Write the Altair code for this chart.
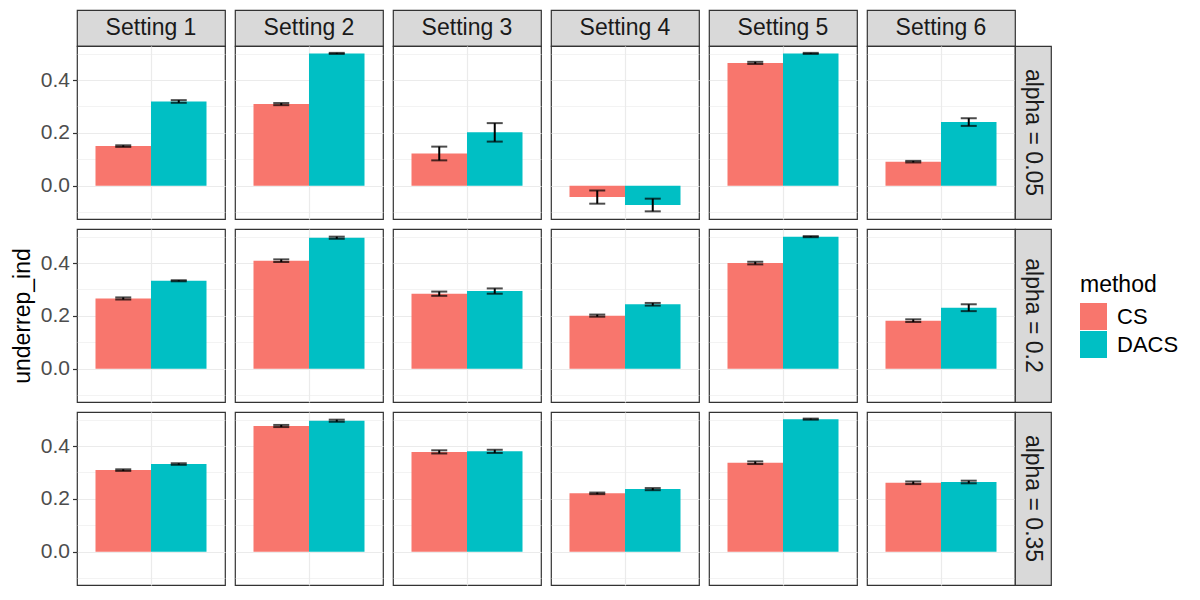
import altair as alt
import pandas as pd

settings = ["Setting 1", "Setting 2", "Setting 3", "Setting 4", "Setting 5", "Setting 6"]
alphas = ["alpha = 0.05", "alpha = 0.2", "alpha = 0.35"]
methods = ["CS", "DACS"]
metric = "underrep_ind"

# values (mean, half-width of error bar)
cs_a005 = [0.150, 0.309, 0.122, -0.043, 0.465, 0.091]
cs_a005_err = [0.003, 0.004, 0.026, 0.025, 0.004, 0.003]
dacs_a005 = [0.319, 0.501, 0.202, -0.073, 0.501, 0.241]
dacs_a005_err = [0.005, 0.002, 0.035, 0.024, 0.002, 0.0145]

cs_a02 = [0.266, 0.409, 0.284, 0.201, 0.400, 0.182]
cs_a02_err = [0.004, 0.005, 0.008, 0.004, 0.005, 0.005]
dacs_a02 = [0.333, 0.496, 0.294, 0.244, 0.500, 0.231]
dacs_a02_err = [0.002, 0.004, 0.010, 0.005, 0.002, 0.013]

cs_a035 = [0.309, 0.476, 0.378, 0.221, 0.337, 0.261]
cs_a035_err = [0.003, 0.004, 0.006, 0.003, 0.005, 0.005]
dacs_a035 = [0.332, 0.496, 0.380, 0.237, 0.502, 0.264]
dacs_a035_err = [0.003, 0.004, 0.006, 0.004, 0.002, 0.005]

series = {
    ("alpha = 0.05", "CS"): (cs_a005, cs_a005_err),
    ("alpha = 0.05", "DACS"): (dacs_a005, dacs_a005_err),
    ("alpha = 0.2", "CS"): (cs_a02, cs_a02_err),
    ("alpha = 0.2", "DACS"): (dacs_a02, dacs_a02_err),
    ("alpha = 0.35", "CS"): (cs_a035, cs_a035_err),
    ("alpha = 0.35", "DACS"): (dacs_a035, dacs_a035_err),
}

rows = []
for (a, m), (vals, errs) in series.items():
    for s, v, e in zip(settings, vals, errs):
        rows.append({"alpha": a, "setting": s, "method": m, "grp": metric,
                     "value": v, "lo": v - e, "hi": v + e})
df = pd.DataFrame(rows)

FONT = "Liberation Sans"
PW, PH = 148, 173
GAP = 10
GRID = "#EBEBEB"
BORDER = "#333333"
STRIP = "#D9D9D9"

ysc = alt.Scale(domain=[-0.126, 0.529], nice=False, zero=False)
major_test = "abs(round(datum.value * 10)) % 2 === 0"

color = alt.Color(
    "method:N",
    scale=alt.Scale(domain=methods, range=["#F8766D", "#00BFC4"]),
    legend=alt.Legend(
        title="method", orient="none", legendX=1003, legendY=264,
        symbolType="square", symbolSize=729, symbolStrokeWidth=0,
        labelOffset=10, rowPadding=1, titlePadding=6, padding=0,
    ),
)


def panel(setting, alpha, first_col, title):
    d = df[(df.setting == setting) & (df.alpha == alpha)]
    if first_col:
        yaxis = alt.Axis(
            values=[-0.1, 0, 0.1, 0.2, 0.3, 0.4, 0.5],
            labelExpr=f"{major_test} ? format(datum.value, '.1f') : ''",
            tickOpacity={"condition": {"test": major_test, "value": 1}, "value": 0},
            gridWidth={"condition": {"test": major_test, "value": 1.2}, "value": 0.6},
            gridColor=GRID, domain=False, tickSize=4.5, tickColor=BORDER,
            tickWidth=1.2, labelPadding=3, titlePadding=6,
        )
    else:
        yaxis = alt.Axis(
            values=[-0.1, 0, 0.1, 0.2, 0.3, 0.4, 0.5],
            labels=False, ticks=False, domain=False, gridColor=GRID,
            gridWidth={"condition": {"test": major_test, "value": 1.2}, "value": 0.6},
        )

    def ych(field):
        return alt.Y(field, scale=ysc, axis=yaxis, title=title)

    x = alt.X("grp:N", title=None,
              scale=alt.Scale(paddingOuter=1 / 6, paddingInner=0),
              axis=alt.Axis(labels=False, ticks=False, domain=False, grid=True,
                            bandPosition=0.5, gridColor=GRID, gridWidth=1.2))
    xo = alt.XOffset("method:N", scale=alt.Scale(domain=methods, paddingInner=0, paddingOuter=0))
    base = alt.Chart(d).encode(x=x, xOffset=xo)
    bars = base.mark_bar().encode(y=ych("value:Q"), color=color)
    rule = base.mark_rule(color="black", strokeWidth=2).encode(y=ych("lo:Q"), y2="hi:Q")
    cap_lo = base.mark_tick(color="black", thickness=2, size=16).encode(y=ych("lo:Q"))
    cap_hi = base.mark_tick(color="black", thickness=2, size=16).encode(y=ych("hi:Q"))
    return alt.layer(bars, rule, cap_lo, cap_hi).properties(width=PW, height=PH)


def top_strip(label):
    return alt.Chart(pd.DataFrame({"label": [label]})).mark_text(
        fontSize=23, color="#1A1A1A", font=FONT, align="center", baseline="middle"
    ).encode(text="label:N").properties(
        width=PW, height=36, view=alt.ViewBackground(fill=STRIP, stroke=BORDER, strokeWidth=1.2)
    )


def right_strip(label):
    return alt.Chart(pd.DataFrame({"label": [label]})).mark_text(
        fontSize=23, color="#1A1A1A", font=FONT, align="center", baseline="middle", angle=90
    ).encode(text="label:N").properties(
        width=36, height=PH, view=alt.ViewBackground(fill=STRIP, stroke=BORDER, strokeWidth=1.2)
    )


def spacer():
    return alt.Chart(pd.DataFrame({"s": [0]})).mark_point(opacity=0).properties(
        width=GAP, height=GAP, view=alt.ViewBackground(stroke="transparent", fill="transparent")
    )


NCOL = 12  # p, gap, p, gap, p, gap, p, gap, p, gap, p, right strip
cells = []
# strip row
for j, s in enumerate(settings):
    cells.append(top_strip(s))
    if j < 5:
        cells.append(spacer())
cells.append(spacer())
# panel rows with gap rows in between
for i, a in enumerate(alphas):
    for j, s in enumerate(settings):
        cells.append(panel(s, a, j == 0, metric if (j == 0 and i == 1) else None))
        if j < 5:
            cells.append(spacer())
    cells.append(right_strip(a))
    if i < 2:
        cells.extend([spacer() for _ in range(NCOL)])

chart = alt.concat(
    *cells, columns=NCOL, spacing=0, bounds="flush", align="each"
).resolve_scale(
    color="shared"
).properties(
    padding={"left": 2, "top": 1, "right": 5, "bottom": 5},
    background="white",
).configure_view(
    stroke=BORDER, strokeWidth=1.2
).configure_axis(
    labelFont=FONT, titleFont=FONT, labelFontSize=21, titleFontSize=23,
    labelColor="#4D4D4D", titleColor="#000000", titleFontWeight="normal",
).configure_legend(
    titleFont=FONT, labelFont=FONT, titleFontSize=23, labelFontSize=22,
    titleFontWeight="normal", titleColor="#000000", labelColor="#000000",
).configure_text(font=FONT)

chart.save("out.html", embed_options={"renderer": "svg", "actions": False})
